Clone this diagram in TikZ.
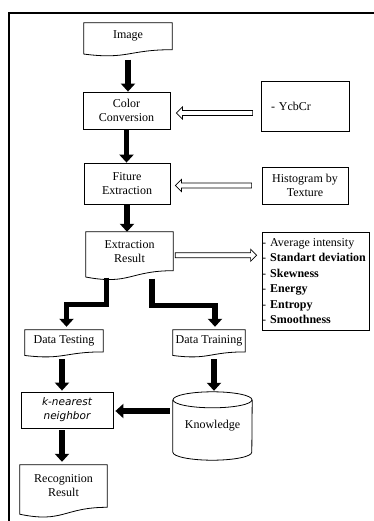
\documentclass[tikz,border=0pt]{standalone}
\usepackage{fontspec}
\setmainfont{Liberation Serif}
\newfontfamily\knnfont{DejaVu Sans}
\usetikzlibrary{arrows.meta,calc}
\newcommand\docoutline[2]{%
  \draw[outl] ($(#1.south west)+(0,{0.1646*#2})$) -- (#1.north west) -- (#1.north east) -- (#1.south east)
    .. controls (#1.south) and ($(#1.south)+(0,{0.38*#2})$) .. ($(#1.south west)+(0,{0.1646*#2})$) -- cycle;}
\newcommand\hollowarrow[2]{%
  \path ($(#2)!6pt!(#1)$) coordinate (hb);
  \draw[hol] ($(#1)+(0,-2.5)$) -- ($(hb)+(0,-2.5)$) -- ($(hb)+(0,-6)$) -- (#2) -- ($(hb)+(0,6)$) -- ($(hb)+(0,2.5)$) -- ($(#1)+(0,2.5)$) -- cycle;}
\begin{document}
\begin{tikzpicture}[x=1pt,y=-1pt,
  every node/.style={font=\fontsize{12}{14}\selectfont, inner sep=0pt, align=center},
  rbox/.style={draw, line width=0.8pt},
  outl/.style={line width=0.8pt},
  blk/.style={line width=5.5pt, line join=miter, -{Triangle[width=14pt,length=8pt]}},
  hol/.style={line width=0.7pt},
  item/.style={anchor=base west}]
\useasboundingbox (0,0) rectangle (373,521);
\draw[line width=2pt] (9,522) -- (9,13) -- (374,13);

% nodes
\node[minimum width=88, minimum height=26.5] (img) at (128,36.25) {Image};
\docoutline{img}{26.5}
\node[rbox, minimum width=87, minimum height=37] (cc) at (126.5,110.5) {Color\\Conversion};
\node[rbox, minimum width=88, minimum height=50, text width=68, inner sep=10pt, align=left] (ycb) at (305,106) {- YcbCr};
\node[rbox, minimum width=86, minimum height=41] (fe) at (127,183.5) {Fiture\\Extraction};
\node[rbox, minimum width=86, minimum height=37] (hist) at (305,185.5) {Histogram by\\Texture};
\node[minimum width=87, minimum height=38.5] (er) at (129.5,251.25) {Extraction\\Result};
\docoutline{er}{38.5}
\node[rbox, minimum width=107, minimum height=98] (lst) at (315.5,281) {};
\node[item] (i1) at (262,246.5) {-\hspace{4pt}Average intensity};
\node[item] (i2) at (262,261.8) {-\hspace{4pt}\bfseries Standart deviation};
\node[item] (i3) at (262,277.4) {-\hspace{4pt}\bfseries Skewness};
\node[item] (i4) at (262,292.8) {-\hspace{4pt}\bfseries Energy};
\node[item] (i5) at (262,308.4) {-\hspace{4pt}\bfseries Entropy};
\node[item] (i6) at (262,323.8) {-\hspace{4pt}\bfseries Smoothness};
\node[minimum width=78, minimum height=21.7] (dtest) at (64,340.85) {Data Testing};
\docoutline{dtest}{21.7}
\node[minimum width=72, minimum height=21.7] (dtrain) at (209,340.85) {Data Training};
\docoutline{dtrain}{21.7}
\node[rbox, minimum width=92, minimum height=36, font=\knnfont\itshape\fontsize{10.5}{14}\selectfont] (knn) at (67,410) {k-nearest\\neighbor};
\node[minimum width=79, minimum height=68] (know) at (212.5,426) {Knowledge};
\draw[outl] ($(know.north)+(0,8)$) ellipse [x radius=39.5pt, y radius=8pt];
\draw[outl] ($(know.north west)+(0,8)$) -- ($(know.south west)+(0,-8)$) arc[start angle=180, end angle=360, x radius=39.5pt, y radius=8pt] -- ($(know.north east)+(0,8)$);
\node[minimum width=87, minimum height=42.1] (rr) at (63.5,486.05) {Recognition\\Result};
\docoutline{rr}{42.1}

% black arrows
\draw[blk] ($(img.south)+(0,10)$) -- (img.south |- cc.north);
\draw[blk] (cc.south) -- (cc.south |- fe.north);
\draw[blk] (fe.south) -- (fe.south |- er.north);
\draw[blk] ($(er.south)+(-23,7)$) -- ++(0,27) -| ($(dtest.north)+(2.5,-3)$);
\draw[blk] ($(er.south)+(22.5,8)$) -- ++(0,27) -| ($(dtrain.north)+(6,-3)$);
\draw[blk] ($(dtest.south)+(-2,7)$) -- ($(knn.north)+(-5,-1)$);
\draw[blk] ($(dtrain.south)+(5,7)$) -- ($(know.north)+(1.5,-1)$);
\draw[blk] ($(know.west)+(-3,-15)$) -- ($(knn.east)+(2,1)$);
\draw[blk] ($(knn.south)+(-5,2)$) -- ($(rr.north)+(-1.5,-3)$);

% hollow arrows
\coordinate (h1a) at ($(ycb.west)+(-8,7)$);
\coordinate (h1b) at ($(cc.east)+(6,2.5)$);
\hollowarrow{h1a}{h1b}
\coordinate (h2a) at ($(hist.west)+(-10,0)$);
\coordinate (h2b) at ($(fe.east)+(5,2)$);
\hollowarrow{h2a}{h2b}
\coordinate (h3a) at ($(er.east)+(2,4)$);
\coordinate (h3b) at ($(lst.west)+(-5,-25.75)$);
\hollowarrow{h3a}{h3b}
\end{tikzpicture}
\end{document}
